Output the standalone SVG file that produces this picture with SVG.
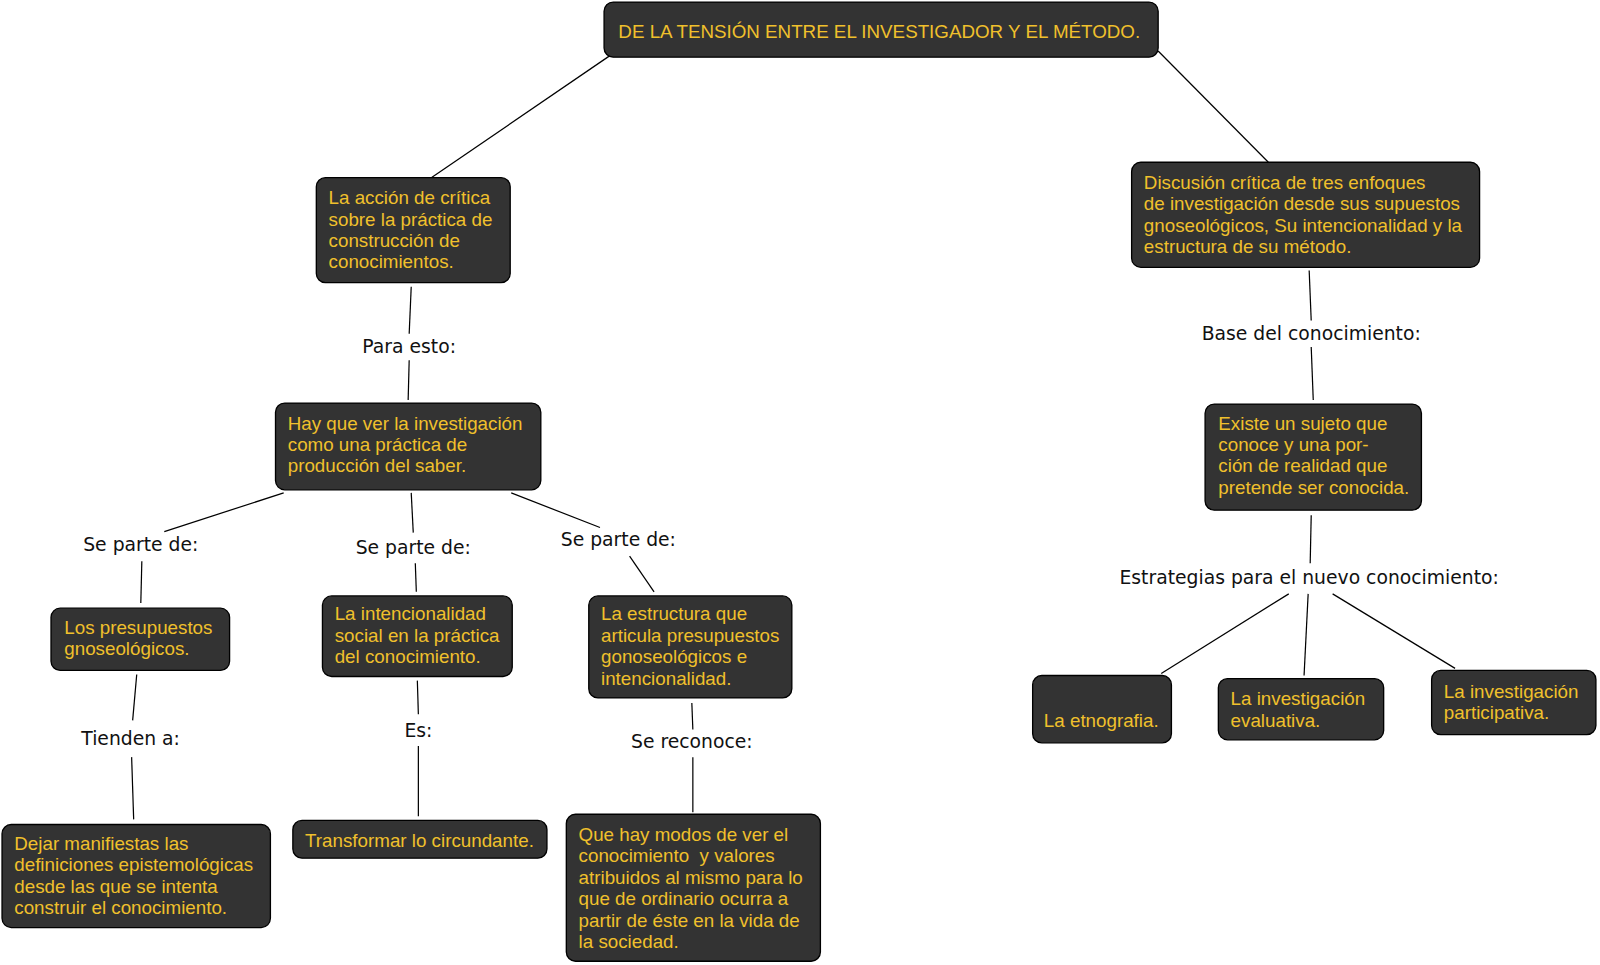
<svg xmlns="http://www.w3.org/2000/svg" width="1600" height="965" viewBox="0 0 1600 965">
<style>
.box{fill:#333333;stroke:#000;stroke-width:1.3}
.nt{font-family:"Liberation Sans",Arial,sans-serif;font-size:18.4px;fill:#f0c02c}
.lb{font-family:"DejaVu Sans",Verdana,sans-serif;font-size:18.4px;fill:#111;text-anchor:middle}
.cn line{stroke:#000;stroke-width:1.2}
</style>
<rect width="1600" height="965" fill="#fff"/>
<g transform="scale(1.0204)">
<g id="connectors" class="cn">
<line x1="597" y1="55" x2="423" y2="174"/>
<line x1="1135" y1="50" x2="1243" y2="159"/>
<line x1="403" y1="281" x2="401" y2="327"/>
<line x1="401" y1="353" x2="400" y2="392"/>
<line x1="1283" y1="265" x2="1285" y2="314"/>
<line x1="1285" y1="340" x2="1287" y2="392"/>
<line x1="1285" y1="505" x2="1284" y2="552"/>
<line x1="1263" y1="582" x2="1138" y2="660"/>
<line x1="1282" y1="582" x2="1278" y2="662"/>
<line x1="1306" y1="582" x2="1426" y2="655"/>
<line x1="278" y1="483" x2="161" y2="521"/>
<line x1="139" y1="550" x2="138" y2="591"/>
<line x1="403" y1="483" x2="405" y2="522"/>
<line x1="407" y1="552" x2="408" y2="580"/>
<line x1="501" y1="483" x2="588" y2="517"/>
<line x1="617" y1="545" x2="641" y2="580"/>
<line x1="134" y1="661" x2="130" y2="706"/>
<line x1="129" y1="742" x2="131" y2="803"/>
<line x1="409" y1="667" x2="410" y2="700"/>
<line x1="410" y1="731" x2="410" y2="800"/>
<line x1="678" y1="689" x2="679" y2="715"/>
<line x1="679" y1="742" x2="679" y2="796"/>
</g>
<g id="labels">
<text class="lb" x="401" y="346">Para esto:</text>
<text class="lb" x="1285" y="333">Base del conocimiento:</text>
<text class="lb" x="1283" y="572">Estrategias para el nuevo conocimiento:</text>
<text class="lb" x="138" y="540">Se parte de:</text>
<text class="lb" x="405" y="543">Se parte de:</text>
<text class="lb" x="606" y="535">Se parte de:</text>
<text class="lb" x="128" y="730">Tienden a:</text>
<text class="lb" x="410" y="722">Es:</text>
<text class="lb" x="678" y="733">Se reconoce:</text>
</g>
<g id="n-title"><rect class="box" x="592" y="2" width="543" height="54" rx="9"/>
<text class="nt" x="606" y="37">DE LA TENSIÓN ENTRE EL INVESTIGADOR Y EL MÉTODO.</text></g>
<g id="n-accion"><rect class="box" x="310" y="174" width="190" height="103" rx="9"/>
<text class="nt" x="322" y="200">La acción de crítica</text>
<text class="nt" x="322" y="221">sobre la práctica de</text>
<text class="nt" x="322" y="242">construcción de</text>
<text class="nt" x="322" y="263">conocimientos.</text></g>
<g id="n-hay"><rect class="box" x="270" y="395" width="260" height="85" rx="9"/>
<text class="nt" x="282" y="421">Hay que ver la investigación</text>
<text class="nt" x="282" y="442">como una práctica de</text>
<text class="nt" x="282" y="463">producción del saber.</text></g>
<g id="n-discusion"><rect class="box" x="1109" y="159" width="341" height="103" rx="9"/>
<text class="nt" x="1121" y="185">Discusión crítica de tres enfoques</text>
<text class="nt" x="1121" y="206">de investigación desde sus supuestos</text>
<text class="nt" x="1121" y="227">gnoseológicos, Su intencionalidad y la</text>
<text class="nt" x="1121" y="248">estructura de su método.</text></g>
<g id="n-existe"><rect class="box" x="1181" y="396" width="212" height="104" rx="9"/>
<text class="nt" x="1194" y="421">Existe un sujeto que</text>
<text class="nt" x="1194" y="442">conoce y una por-</text>
<text class="nt" x="1194" y="463">ción de realidad que</text>
<text class="nt" x="1194" y="484">pretende ser conocida.</text></g>
<g id="n-presupuestos"><rect class="box" x="50" y="596" width="175" height="61" rx="9"/>
<text class="nt" x="63" y="621">Los presupuestos</text>
<text class="nt" x="63" y="642">gnoseológicos.</text></g>
<g id="n-intencionalidad"><rect class="box" x="316" y="584" width="186" height="79" rx="9"/>
<text class="nt" x="328" y="608">La intencionalidad</text>
<text class="nt" x="328" y="629">social en la práctica</text>
<text class="nt" x="328" y="650">del conocimiento.</text></g>
<g id="n-estructura"><rect class="box" x="577" y="584" width="199" height="100" rx="9"/>
<text class="nt" x="589" y="608">La estructura que</text>
<text class="nt" x="589" y="629">articula presupuestos</text>
<text class="nt" x="589" y="650">gonoseológicos e</text>
<text class="nt" x="589" y="671">intencionalidad.</text></g>
<g id="n-dejar"><rect class="box" x="2" y="808" width="263" height="101" rx="9"/>
<text class="nt" x="14" y="833">Dejar manifiestas las</text>
<text class="nt" x="14" y="854">definiciones epistemológicas</text>
<text class="nt" x="14" y="875">desde las que se intenta</text>
<text class="nt" x="14" y="896">construir el conocimiento.</text></g>
<g id="n-transformar"><rect class="box" x="287" y="804" width="249" height="37" rx="9"/>
<text class="nt" x="299" y="830">Transformar lo circundante.</text></g>
<g id="n-quehay"><rect class="box" x="555" y="798" width="249" height="144" rx="9"/>
<text class="nt" x="567" y="824">Que hay modos de ver el</text>
<text class="nt" x="567" y="845" xml:space="preserve">conocimiento  y valores</text>
<text class="nt" x="567" y="866">atribuidos al mismo para lo</text>
<text class="nt" x="567" y="887">que de ordinario ocurra a</text>
<text class="nt" x="567" y="908">partir de éste en la vida de</text>
<text class="nt" x="567" y="929">la sociedad.</text></g>
<g id="n-etnografia"><rect class="box" x="1012" y="662" width="136" height="66" rx="9"/>
<text class="nt" x="1023" y="712">La etnografia.</text></g>
<g id="n-evaluativa"><rect class="box" x="1194" y="665" width="162" height="60" rx="9"/>
<text class="nt" x="1206" y="691">La investigación</text>
<text class="nt" x="1206" y="712">evaluativa.</text></g>
<g id="n-participativa"><rect class="box" x="1403" y="657" width="161" height="63" rx="9"/>
<text class="nt" x="1415" y="684">La investigación</text>
<text class="nt" x="1415" y="705">participativa.</text></g>
</g>
</svg>
